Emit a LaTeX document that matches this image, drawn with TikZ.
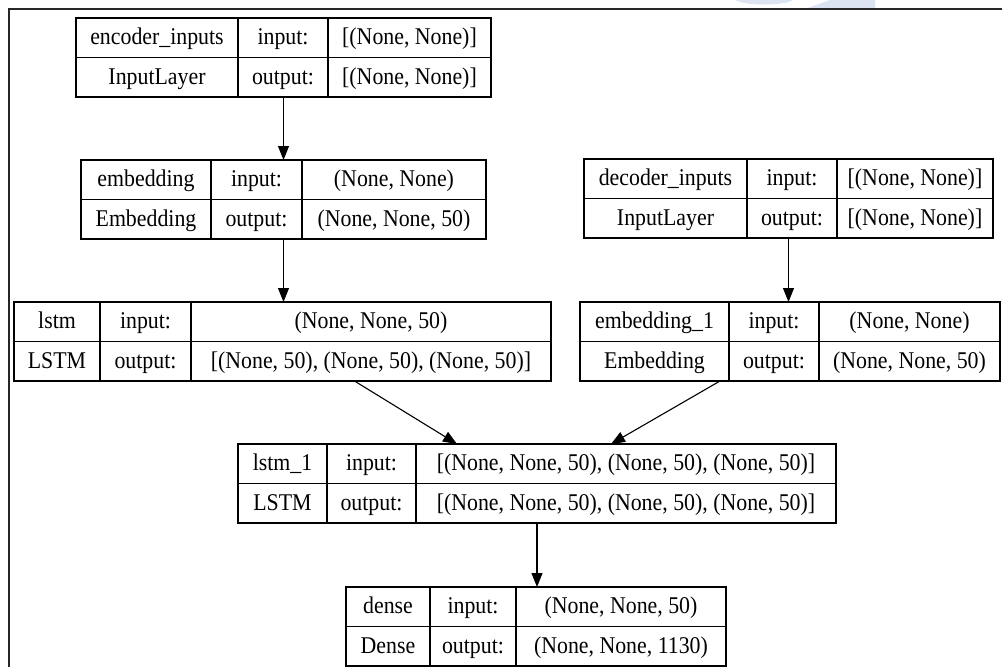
\documentclass[tikz,border=0pt]{standalone}
\usepackage{fontspec}
\setmainfont{Liberation Serif}[FakeStretch=0.91]
\usetikzlibrary{arrows.meta}
\definecolor{wmblue}{HTML}{DCE4F2}
\tikzset{
  cellbox/.style={draw=black, line width=1.1pt, rectangle, inner sep=0pt, outer sep=0pt, anchor=north west},
  gridline/.style={draw=black, line width=1.1pt},
  celltext/.style={anchor=base, inner sep=0pt, font=\fontsize{24}{28}\selectfont},
  arr/.style={draw=black, line width=1.1pt, -{Triangle[length=14pt,width=11pt]}},
  framestyle/.style={draw=black!85, line width=2pt},
}
% #1 name, #2 x0, #3 x1, #4 x2, #5 x3, #6 layer, #7 class, #8 input, #9 output; top from \ytop
\newcommand{\ltable}[9]{%
  \node[cellbox, minimum width={#5-#2}, minimum height=79pt] (#1) at (#2,\ytop) {};
  \draw[gridline] (#3,\ytop) -- (#3,\ytop+79);
  \draw[gridline] (#4,\ytop) -- (#4,\ytop+79);
  \draw[gridline] (#2,\ytop+39.5) -- (#5,\ytop+39.5);
  \node[celltext] (#1-a) at ({(#2+#3)/2},\ytop+26.5) {#6};
  \node[celltext] (#1-b) at ({(#3+#4)/2},\ytop+26.5) {input:};
  \node[celltext] (#1-c) at ({(#4+#5)/2},\ytop+26.5) {#8};
  \node[celltext] (#1-d) at ({(#2+#3)/2},\ytop+66) {#7};
  \node[celltext] (#1-e) at ({(#3+#4)/2},\ytop+66) {output:};
  \node[celltext] (#1-f) at ({(#4+#5)/2},\ytop+66) {#9};
}
\begin{document}
\begin{tikzpicture}[x=1pt,y=-1pt]
\useasboundingbox (0,0) rectangle (1002,667);
% faint watermark pieces at the top
\fill[wmblue] (735,0) -- (793,0) .. controls (785,6) and (745,6) .. (735,0) -- cycle;
\fill[wmblue] (830,0) -- (875,0) -- (875,9) -- (805,9) -- cycle;
% frame
\draw[framestyle] (9,667) -- (9,9) -- (1002,9);

\def\ytop{18}
\ltable{t1}{76}{238}{328}{491}{encoder\_inputs}{InputLayer}{[(None, None)]}{[(None, None)]}
\def\ytop{160}
\ltable{t2}{81}{211}{302}{486}{embedding}{Embedding}{(None, None)}{(None, None, 50)}
\def\ytop{159}
\ltable{t3}{584}{747}{837}{993}{decoder\_inputs}{InputLayer}{[(None, None)]}{[(None, None)]}
\def\ytop{302}
\ltable{t4}{14}{100}{191}{551}{lstm}{LSTM}{(None, None, 50)}{[(None, 50), (None, 50), (None, 50)]}
\def\ytop{302}
\ltable{t5}{580}{729}{819}{1000}{embedding\_1}{Embedding}{(None, None)}{(None, None, 50)}
\def\ytop{444}
\ltable{t6}{238}{327}{416}{836}{lstm\_1}{LSTM}{[(None, None, 50), (None, 50), (None, 50)]}{[(None, None, 50), (None, 50), (None, 50)]}
\def\ytop{587}
\ltable{t7}{346}{430}{516}{726}{dense}{Dense}{(None, None, 50)}{(None, None, 1130)}

\draw[arr] (t1.south) -- (t1.south |- t2.north);
\draw[arr] (t2.south) -- (t2.south |- t4.north);
\draw[arr] (t3.south) -- (t3.south |- t5.north);
\draw[arr] ([xshift=72pt]t4.south) -- ([xshift=-80pt]t6.north);
\draw[arr] ([xshift=-70pt]t5.south) -- ([xshift=74pt]t6.north);
\draw[arr] (t6.south) -- (t6.south |- t7.north);
\end{tikzpicture}
\end{document}
